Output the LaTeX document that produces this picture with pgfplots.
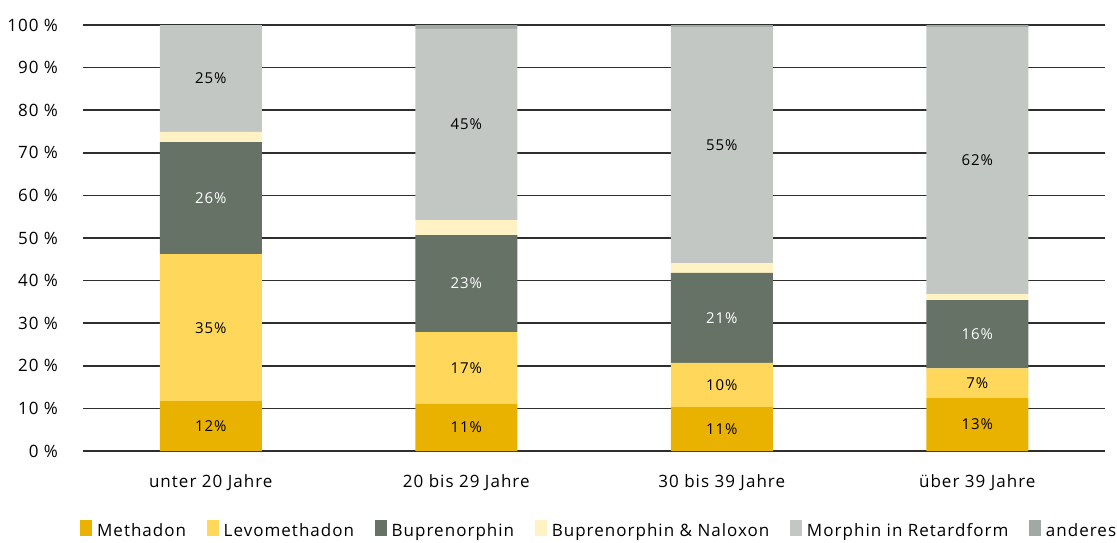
\documentclass[border=0pt]{standalone}
\usepackage{pgfplots}
\pgfplotsset{compat=1.18}
\usepackage{pgfplotstable}
\usepackage{fontspec}
\setmainfont{Open Sans}[LetterSpace=6]

\definecolor{cMeth}{HTML}{E9B200}
\definecolor{cLevo}{HTML}{FFD85B}
\definecolor{cBup}{HTML}{667266}
\definecolor{cBupN}{HTML}{FFF2C5}
\definecolor{cMor}{HTML}{C2C7C4}
\definecolor{cAnd}{HTML}{A2A8A4}
\definecolor{cGrid}{HTML}{2E2E2E}

% shares in percent, one row per age group
\pgfplotstableread{
x meth levo bup bupn mor and
0 11.7 34.5 26.3 2.4 25.1 0.0
1 11.0 16.9 22.8 3.5 44.9 0.9
2 10.3 10.4 21.1 2.3 55.4 0.5
3 12.4  7.0 16.0 1.4 62.6 0.6
}\shares

% segment label positions (middle of each segment)
\pgfplotstableread{
x y lab
0 5.85 12\%
0 28.95 35\%
0 87.45 25\%
1 5.5 11\%
1 19.45 17\%
1 76.65 45\%
2 5.15 11\%
2 15.5 10\%
2 71.8 55\%
3 6.2 13\%
3 15.95 7\%
3 68.2 62\%
}\darklabels
\pgfplotstableread{
x y lab
0 59.35 26\%
1 39.3 23\%
2 31.25 21\%
3 27.45 16\%
}\lightlabels

\begin{document}
\begin{tikzpicture}
\path[use as bounding box] (-41.5pt,-45.5pt) rectangle (517pt,225.5pt);
\pgfplotsset{
  base/.style={
    scale only axis,
    width=511pt, height=213pt,
    xmin=-0.5, xmax=3.5,
    ymin=0, ymax=100,
  },
}
\begin{axis}[
  base,
  ybar stacked,
  bar width=51pt,
  axis line style={draw=none},
  major tick length=0pt,
  xtick={0,1,2,3},
  xticklabels={unter 20 Jahre, 20 bis 29 Jahre, 30 bis 39 Jahre, über 39 Jahre},
  xticklabel style={yshift=-8.5pt},
  ytick={0,10,...,100},
  yticklabel={\pgfmathprintnumber[assume math mode=true]{\tick}~\%},
  yticklabel style={xshift=-9pt},
  ymajorgrids=true,
  grid style={cGrid, line width=0.75pt},
  tick label style={font=\fontsize{8.5}{10}\selectfont},
  legend style={
    draw=none, fill=none,
    at={(0.506,-0.188)}, anchor=center,
    legend columns=-1,
    font=\fontsize{8.5}{10}\selectfont,
    /tikz/every odd column/.append style={column sep=0.5pt},
    /tikz/every even column/.append style={column sep=8.3pt},
  },
  legend image code/.code={\fill[#1] (0pt,-2.5pt) rectangle (6pt,5.5pt);},
]
\addplot[fill=cMeth, draw=none] table[x=x, y=meth] {\shares};
\addlegendentry{Methadon}
\addplot[fill=cLevo, draw=none] table[x=x, y=levo] {\shares};
\addlegendentry{Levomethadon}
\addplot[fill=cBup, draw=none] table[x=x, y=bup] {\shares};
\addlegendentry{Buprenorphin}
\addplot[fill=cBupN, draw=none] table[x=x, y=bupn] {\shares};
\addlegendentry{Buprenorphin \& Naloxon}
\addplot[fill=cMor, draw=none] table[x=x, y=mor] {\shares};
\addlegendentry{Morphin in Retardform}
\addplot[fill=cAnd, draw=none] table[x=x, y=and] {\shares};
\addlegendentry{anderes}
\end{axis}
\begin{axis}[
  base,
  hide axis,
  point meta=explicit symbolic,
  nodes near coords,
  every node near coord/.append style={anchor=center, font=\fontsize{7.5}{9}\selectfont},
]
\addplot[draw=none, nodes near coords style={text=black}] table[x=x, y=y, meta=lab] {\darklabels};
\addplot[draw=none, nodes near coords style={text=white}] table[x=x, y=y, meta=lab] {\lightlabels};
\end{axis}
\end{tikzpicture}
\end{document}
